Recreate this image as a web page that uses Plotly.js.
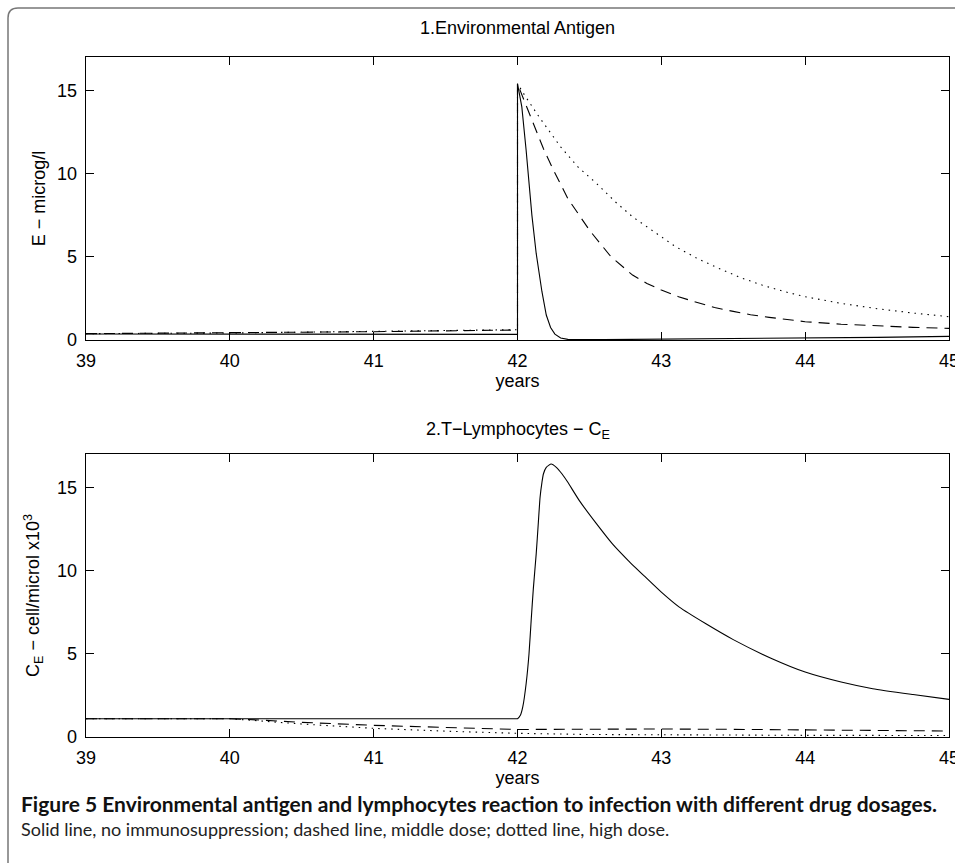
<!DOCTYPE html>
<html>
<head>
<meta charset="utf-8">
<script src="https://cdn.plot.ly/plotly-3.0.1.min.js"></script>
<style>
  html, body { margin: 0; padding: 0; background: #fff; }
  #chart { width: 955px; height: 863px; }
</style>
</head>
<body>
<div id="chart"></div>
<script>
// ---------- Panel 1: Environmental antigen E (microg/l) ----------
const eSolidX  = [39, 40, 41, 42.0, 42.0, 42.01, 42.03, 42.06, 42.1, 42.13, 42.17, 42.2, 42.23, 42.26, 42.3, 42.35, 42.4, 42.6, 43, 43.5, 44, 44.5, 45];
const eSolidY  = [0.36, 0.36, 0.35, 0.34, 15.4, 15.0, 14.0, 11.4, 7.5, 5.2, 2.9, 1.5, 0.75, 0.35, 0.12, 0.04, 0.02, 0.02, 0.04, 0.07, 0.11, 0.16, 0.22];

const eDashX   = [39, 40, 41, 42.0, 42.0, 42.05, 42.1, 42.18, 42.25, 42.35, 42.5, 42.65, 42.8, 42.9, 43.0, 43.12, 43.25, 43.37, 43.5, 43.62, 43.75, 43.87, 44.0, 44.25, 44.5, 44.75, 45.0];
const eDashY   = [0.38, 0.42, 0.5, 0.6, 15.4, 14.3, 13.2, 11.5, 10.2, 8.5, 6.6, 5.0, 3.9, 3.4, 3.0, 2.6, 2.25, 1.95, 1.72, 1.52, 1.36, 1.22, 1.1, 0.95, 0.84, 0.76, 0.7];

const eDotX    = [39, 40, 41, 42.0, 42.0, 42.05, 42.15, 42.3, 42.42, 42.55, 42.68, 42.8, 42.95, 43.1, 43.25, 43.4, 43.55, 43.7, 43.85, 44.0, 44.25, 44.5, 44.75, 45.0];
const eDotY    = [0.38, 0.42, 0.52, 0.62, 15.4, 14.7, 13.4, 11.6, 10.4, 9.4, 8.3, 7.4, 6.5, 5.6, 4.9, 4.3, 3.75, 3.3, 2.92, 2.6, 2.2, 1.88, 1.62, 1.4];

// ---------- Panel 2: T-Lymphocytes C_E (cell/microl x10^3) ----------
const cSolidX  = [39, 40, 41, 41.5, 41.9, 41.97, 42.0, 42.02, 42.037, 42.06, 42.08, 42.095, 42.11, 42.13, 42.145, 42.157, 42.17, 42.18, 42.2, 42.234, 42.27, 42.31, 42.35, 42.43, 42.55, 42.66, 42.77, 42.89, 43.0, 43.125, 43.31, 43.5, 43.77, 44.0, 44.25, 44.47, 44.75, 45];
const cSolidY  = [1.1, 1.1, 1.1, 1.1, 1.1, 1.1, 1.1, 1.3, 1.82, 3.2, 5.0, 7.0, 8.9, 11.0, 12.9, 14.4, 15.3, 15.8, 16.2, 16.4, 16.2, 15.8, 15.3, 14.2, 12.8, 11.6, 10.6, 9.6, 8.7, 7.8, 6.8, 5.85, 4.7, 3.9, 3.3, 2.9, 2.55, 2.26];

const cDashX   = [39, 40, 40.25, 40.5, 41, 41.5, 42, 42.25, 42.5, 43, 43.5, 44, 44.5, 45];
const cDashY   = [1.1, 1.1, 1.0, 0.88, 0.7, 0.56, 0.45, 0.46, 0.48, 0.48, 0.46, 0.44, 0.4, 0.36];

const cDotX    = [39, 40, 40.5, 41, 41.5, 42, 42.5, 43, 44, 45];
const cDotY    = [1.1, 1.1, 0.78, 0.52, 0.35, 0.22, 0.15, 0.12, 0.1, 0.09];

// ---------- Text ----------
const xTicks = [39, 40, 41, 42, 43, 44, 45];
const yTicks = [0, 5, 10, 15];
const title1 = "1.Environmental Antigen";
const title2 = "2.T\u2212Lymphocytes \u2212 C<sub>E</sub>";
const yTitle1 = "E \u2212 microg/l";
const yTitle2 = "C<sub>E</sub> \u2212 cell/microl x10<sup>3</sup>";
const xTitle = "years";
const captionBold = "Figure 5 Environmental antigen and lymphocytes reaction to infection with different drug dosages.";
const captionText = "Solid line, no immunosuppression; dashed line, middle dose; dotted line, high dose.";

const FONT = "Liberation Sans, Arial, Helvetica, sans-serif";
const CAPFONT = "Lato, Noto Sans, sans-serif";
const solid = {color: "#000", width: 1.1};
const solidSm = {color: "#000", width: 1.1, shape: "spline", smoothing: 0.5};
const dash  = {color: "#000", width: 1.1, dash: "11px,7px"};
const dot   = {color: "#000", width: 1.1, dash: "1.5px,5px"};

const traces = [
  {x: eSolidX, y: eSolidY, xaxis: "x",  yaxis: "y",  mode: "lines", line: solid, name: "no immunosuppression"},
  {x: eDashX,  y: eDashY,  xaxis: "x",  yaxis: "y",  mode: "lines", line: dash,  name: "middle dose"},
  {x: eDotX,   y: eDotY,   xaxis: "x",  yaxis: "y",  mode: "lines", line: dot,   name: "high dose"},
  {x: cSolidX, y: cSolidY, xaxis: "x2", yaxis: "y2", mode: "lines", line: solidSm, name: "no immunosuppression"},
  {x: cDashX,  y: cDashY,  xaxis: "x2", yaxis: "y2", mode: "lines", line: dash,  name: "middle dose"},
  {x: cDotX,   y: cDotY,   xaxis: "x2", yaxis: "y2", mode: "lines", line: dot,   name: "high dose"}
];

function xAxis(anchor) {
  return {
    anchor: anchor, domain: [0, 1], range: [39, 45], tickvals: xTicks, ticktext: xTicks.map(String),
    ticks: "inside", ticklen: 8, tickwidth: 1, tickcolor: "#000",
    showline: true, linecolor: "#000", linewidth: 1.3, mirror: "ticks",
    showgrid: false, zeroline: false, ticklabelstandoff: 4, ticklabeloverflow: "allow",
    tickfont: {family: FONT, size: 18, color: "#000"},
    title: {text: xTitle, font: {family: FONT, size: 18, color: "#000"}, standoff: 4}
  };
}
function yAxis(anchor, domain, title, standoff) {
  return {
    anchor: anchor, domain: domain, range: [0, 17], tickvals: yTicks, ticktext: yTicks.map(String),
    ticks: "inside", ticklen: 8, tickwidth: 1, tickcolor: "#000",
    showline: true, linecolor: "#000", linewidth: 1.3, mirror: "ticks",
    showgrid: false, zeroline: false, ticklabelstandoff: 4,
    tickfont: {family: FONT, size: 18, color: "#000"},
    title: {text: title, font: {family: FONT, size: 18, color: "#000"}, standoff: standoff}
  };
}

const W = 955, H = 863, L = 86, R = 6;
const pw = W - L - R;
const px = v => (v - L) / pw;       // pixel x -> paper x
const py = v => (H - v) / H;        // pixel y -> paper y

const layout = {
  width: W, height: H,
  margin: {l: L, r: R, t: 0, b: 0, pad: 0},
  paper_bgcolor: "#fff", plot_bgcolor: "#fff",
  showlegend: false,
  font: {family: FONT, color: "#000"},
  xaxis:  xAxis("y"),
  yaxis:  yAxis("x",  [py(340), py(57)], yTitle1, 6),
  xaxis2: xAxis("y2"),
  yaxis2: yAxis("x2", [py(737), py(454)], yTitle2, 12),
  annotations: [
    {text: title1, xref: "paper", yref: "paper", x: 0.5, y: py(28), xanchor: "center", yanchor: "middle",
     showarrow: false, font: {family: FONT, size: 18, color: "#000"}},
    {text: title2, xref: "paper", yref: "paper", x: 0.5, y: py(430), xanchor: "center", yanchor: "middle",
     showarrow: false, font: {family: FONT, size: 18, color: "#000"}},
    {text: "<b>" + captionBold + "</b>", xref: "paper", yref: "paper", x: px(19), y: py(803), xanchor: "left", yanchor: "middle",
     showarrow: false, font: {family: CAPFONT, size: 21, color: "#111"}},
    {text: captionText, xref: "paper", yref: "paper", x: px(19), y: py(829), xanchor: "left", yanchor: "middle",
     showarrow: false, font: {family: CAPFONT, size: 18, color: "#222"}}
  ],
  shapes: [
    {type: "path", xref: "paper", yref: "paper",
     path: "M " + px(8) + "," + py(870) + " L " + px(8) + "," + py(18) +
           " Q " + px(8) + "," + py(8) + " " + px(18) + "," + py(8) +
           " L " + px(965) + "," + py(8),
     line: {color: "#777", width: 1.5}}
  ]
};

Plotly.newPlot("chart", traces, layout, {staticPlot: true, displayModeBar: false});
</script>
</body>
</html>
